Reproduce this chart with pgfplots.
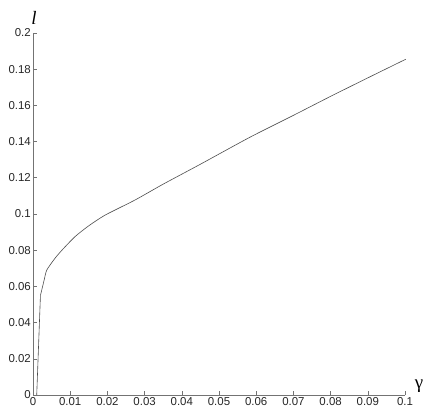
\documentclass[border=0pt]{standalone}
\usepackage{pgfplots}
\pgfplotsset{compat=1.18}
\usepackage{fontspec}
\setmainfont{Liberation Sans}
\newfontfamily\serifl{Liberation Serif}
\begin{document}
\begin{tikzpicture}[x=1bp,y=1bp]
\begin{axis}[
  at={(0bp,0bp)}, anchor=origin,
  scale only axis,
  width=372bp, height=362bp,
  xmin=0, xmax=0.1, ymin=0, ymax=0.2,
  axis lines=left,
  axis line style={-, draw=black!55, line width=0.6pt},
  tick style={draw=black!55, line width=0.6pt},
  tick align=inside,
  major tick length=3.5bp,
  xtick={0,0.01,...,0.1},
  ytick={0,0.02,...,0.2},
  xticklabels={0,0.01,0.02,0.03,0.04,0.05,0.06,0.07,0.08,0.09,0.1},
  yticklabels={0,0.02,0.04,0.06,0.08,0.1,0.12,0.14,0.16,0.18,0.2},
  scaled ticks=false,
  /pgf/number format/assume math mode=true,
  tick label style={font=\fontsize{11.5}{13}\selectfont, text=black!85},
  xticklabel style={inner sep=2bp},
  yticklabel style={inner sep=2bp},
  clip=false,
]
\addplot[color=black!70, line width=0.6pt, smooth, tension=0.3] coordinates {
(0.001,0)
(0.002,0.055)
};
\addplot[color=black!70, line width=0.6pt, smooth, tension=0.4] coordinates {
(0.002,0.055)
(0.003,0.0635)
(0.0037,0.069)
(0.0059,0.0755)
(0.008,0.0805)
(0.0113,0.0875)
(0.015,0.0935)
(0.0194,0.0994)
(0.0274,0.1077)
(0.035,0.1165)
(0.045,0.1275)
(0.0583,0.1424)
(0.07,0.1545)
(0.08,0.1650)
(0.09,0.1752)
(0.1002,0.1855)
};
\end{axis}
\node at (1bp,377bp) {\serifl\itshape\fontsize{19}{21}\selectfont l};
\node at (386bp,9bp) {\serifl\fontsize{19}{21}\selectfont γ};
\path[use as bounding box] (-33bp,-22bp) rectangle (403bp,395bp);
\end{tikzpicture}
\end{document}
